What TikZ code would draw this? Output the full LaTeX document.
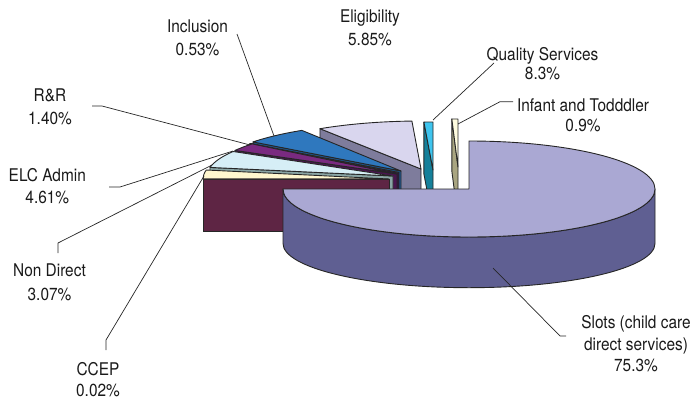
\documentclass[tikz,border=0pt]{standalone}
\usepackage{fontspec}
\setmainfont[FakeStretch=0.88]{TeX Gyre Heros}
\definecolor{infT}{HTML}{FFFCDF}
\definecolor{infS}{HTML}{A9A581}
\definecolor{qsT}{HTML}{3EC4EE}
\definecolor{qsS}{HTML}{15809A}
\definecolor{elT}{HTML}{D9D6EE}
\definecolor{elS}{HTML}{7E7C9C}
\definecolor{inT}{HTML}{2F78BE}
\definecolor{inS}{HTML}{1F5A93}
\definecolor{saT}{HTML}{D29A86}
\definecolor{saS}{HTML}{2B1B3B}
\definecolor{mgT}{HTML}{7A2A80}
\definecolor{mgS}{HTML}{4A1550}
\definecolor{lcT}{HTML}{D6EEF6}
\definecolor{lcS}{HTML}{8AA5A5}
\definecolor{crT}{HTML}{FFF7CF}
\definecolor{crS}{HTML}{B0A878}
\definecolor{ccT}{HTML}{7A3A5C}
\definecolor{ccS}{HTML}{5E2544}
\definecolor{slT}{HTML}{AAA8D3}
\definecolor{slS}{HTML}{5F5F92}
\definecolor{ink}{HTML}{1A1A1A}
% #1,#2 apex; #3,#4 angles; #5 top colour; #6 side colour
\newcommand\pieslice[6]{%
  \filldraw[face,fill=#6] ({#1+186*cos(#4)},{#2-48*sin(#4)}) -- (#1,#2) -- (#1,{#2+52})
     -- ({#1+186*cos(#4)},{#2+52-48*sin(#4)}) -- cycle;
  \filldraw[face,fill=#5] (#1,#2) -- ({#1+186*cos(#3)},{#2-48*sin(#3)})
     arc[start angle={-#3}, end angle={-#4}, x radius=186, y radius=48] -- cycle;
}
\begin{document}
\begin{tikzpicture}[x=1pt,y=-1pt,line join=round,
  face/.style={draw=black!85,line width=0.9pt},
  lead/.style={draw=black!85,line width=0.7pt},
  lbl/.style={align=center,anchor=base,inner sep=0pt,text=ink},
  lsp/.style={font=\fontsize{17.5}{#1}\selectfont}]
\useasboundingbox (0,0) rectangle (696,399);

% small exploded slices, back to front
\pieslice{458}{167}{90}{91.9}{infT}{infS}
\pieslice{433}{170}{90}{92.8}{qsT}{qsS}
\pieslice{421}{169}{92.8}{122.9}{elT}{elS}
\pieslice{401}{171}{122.2}{142.7}{inT}{inS}
\pieslice{399}{172.5}{142.7}{143.6}{saT}{saS}
\pieslice{397}{174}{141.2}{150.6}{mgT}{mgS}
\pieslice{393}{176}{149.3}{169.7}{lcT}{lcS}
\pieslice{389}{179}{169.2}{180}{crT}{crS}
\pieslice{389}{179}{179.95}{180}{ccT}{ccS}

% Slots slice
\filldraw[face,fill=slS] (655,189) arc[start angle=0,end angle=180,x radius=186,y radius=48]
   -- (283,243.5) arc[start angle=180,end angle=0,x radius=186,y radius=44.2] -- cycle;
\filldraw[face,fill=slT] (469,189) -- (469,141)
   arc[start angle=-90,end angle=180,x radius=186,y radius=48] -- cycle;

% labels (base anchor = last line's baseline)
\node[lbl,lsp=22.3] (inc) at (197.5,55) {Inclusion\\0.53\%};
\node[lbl,lsp=22.3] (eli) at (370,45) {Eligibility\\5.85\%};
\node[lbl,lsp=18.3] (qua) at (542.5,79) {Quality Services\\8.3\%};
\node[lbl,lsp=19.3] (inf) at (583,131) {Infant and Todddler\\0.9\%};
\node[lbl,lsp=22.3] (rr) at (50,124) {R\&R\\1.40\%};
\node[lbl,lsp=21.6] (elc) at (47.3,203.3) {ELC Admin\\4.61\%};
\node[lbl,lsp=23.3] (nd) at (49.5,300) {Non Direct\\3.07\%};
\node[lbl,lsp=21.7] (cc) at (98,396.7) {CCEP\\0.02\%};
\node[lbl,lsp=21.7] (sl) at (636,371.7) {Slots (child care\\direct services)\\75.3\%};

% leader lines
\coordinate (incA) at (237,34);   \coordinate (incB) at (274,136);
\coordinate (quaA) at (494,63);   \coordinate (quaB) at (433,120);
\coordinate (infA) at (513,101.7); \coordinate (infK) at (500,101.7); \coordinate (infB) at (458,124);
\coordinate (rrA) at (92,106);    \coordinate (rrK) at (102,106);   \coordinate (rrB) at (250,145);
\coordinate (elcA) at (109,187);  \coordinate (elcK) at (120,187);  \coordinate (elcB) at (233,151);
\coordinate (ndA) at (58,253);    \coordinate (ndK) at (58,243);    \coordinate (ndB) at (212,165);
\coordinate (ccA) at (106,350);   \coordinate (ccK) at (106,340);   \coordinate (ccB) at (204,176);
\coordinate (slA) at (566,336);   \coordinate (slK) at (560,336);   \coordinate (slB) at (493,268);
\draw[lead] (incA) -- (incB);
\draw[lead] (quaA) -- (quaB);
\draw[lead] (infA) -- (infK) -- (infB);
\draw[lead] (rrA) -- (rrK) -- (rrB);
\draw[lead] (elcA) -- (elcK) -- (elcB);
\draw[lead] (ndA) -- (ndK) -- (ndB);
\draw[lead] (ccA) -- (ccK) -- (ccB);
\draw[lead] (slA) -- (slK) -- (slB);
\end{tikzpicture}
\end{document}
